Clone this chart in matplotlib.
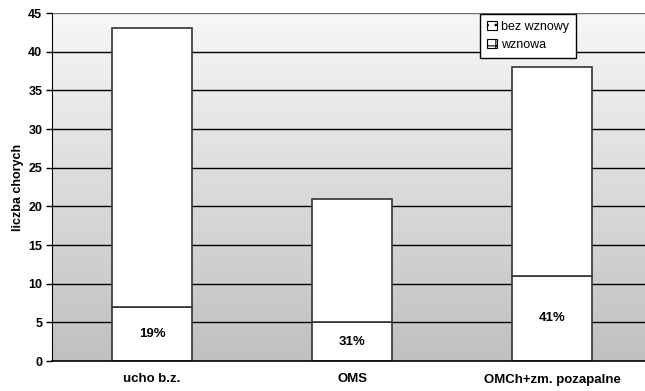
import numpy as np
import matplotlib
matplotlib.use("Agg")
import matplotlib.pyplot as plt
from matplotlib.patches import Patch
from matplotlib.colors import LinearSegmentedColormap

plt.rcParams['font.family'] = ['Liberation Sans', 'DejaVu Sans']
plt.rcParams['hatch.linewidth'] = 0.8

categories = ["ucho b.z.", "OMS", "OMCh+zm. pozapalne"]
wznowa = [7, 5, 11]
bez_wznowy = [36, 16, 27]
yticks = list(range(0, 50, 5))

fig = plt.figure(figsize=(6.45, 3.91), dpi=100)
ax = fig.add_axes([52 / 645, 30 / 391, 600 / 645, 348 / 391])

x = np.arange(len(categories))
ax.set_xlim(-0.5, 2.5)
ax.set_ylim(0, 45)

# vertical grey gradient behind the plot
cmap = LinearSegmentedColormap.from_list("bg", ["#c0c0c0", "#f7f7f7"])
grad = np.linspace(0, 1, 256).reshape(-1, 1)
ax.imshow(grad, cmap=cmap, aspect="auto", origin="lower",
          extent=(-0.5, 2.5, 0, 45), zorder=0)

for t in yticks[1:]:
    ax.axhline(t, color="black" if t < 45 else "#707070", lw=1, zorder=1)

w = 0.4
ax.bar(x, wznowa, width=w, color="white", edgecolor="#333333", lw=1.2, zorder=2)
ax.bar(x, bez_wznowy, width=w, bottom=wznowa, color="white",
       edgecolor="#333333", lw=1.2, zorder=2)

for xi, a, b in zip(x, wznowa, bez_wznowy):
    ax.text(xi, a / 2, f"{round(100 * a / b)}%", ha="center", va="center",
            fontsize=9.5, fontweight="bold", zorder=3)

ax.set_yticks(yticks)
ax.set_yticklabels([str(t) for t in yticks], fontsize=9, fontweight="bold")
ax.set_xticks(x)
ax.set_xticklabels(categories, fontsize=9.5, fontweight="bold")
ax.tick_params(axis="x", length=0, pad=9)
ax.tick_params(axis="y", length=4, width=1, pad=3, direction="out")
for s in ["top", "right"]:
    ax.spines[s].set_visible(False)
ax.spines["left"].set_color("black")
ax.spines["bottom"].set_color("black")
ax.spines["bottom"].set_linewidth(1.2)
ax.set_ylabel("liczba chorych", fontsize=9, fontweight="bold", labelpad=3)

handles = [Patch(facecolor="white", edgecolor="black", hatch="..", lw=0.8),
           Patch(facecolor="white", edgecolor="black", hatch="++", lw=0.8)]
leg = fig.legend(handles, ["bez wznowy", "wznowa"], loc="upper left",
                 bbox_to_anchor=(480 / 645, 1 - 14 / 391), fontsize=9,
                 frameon=True, fancybox=False, handlelength=0.8,
                 handleheight=0.8, handletextpad=0.3, borderpad=0.55,
                 labelspacing=0.45, borderaxespad=0)
leg.get_frame().set_edgecolor("black")
leg.get_frame().set_linewidth(1)
leg.get_frame().set_alpha(1)
fig.savefig("out.png", dpi=100)
